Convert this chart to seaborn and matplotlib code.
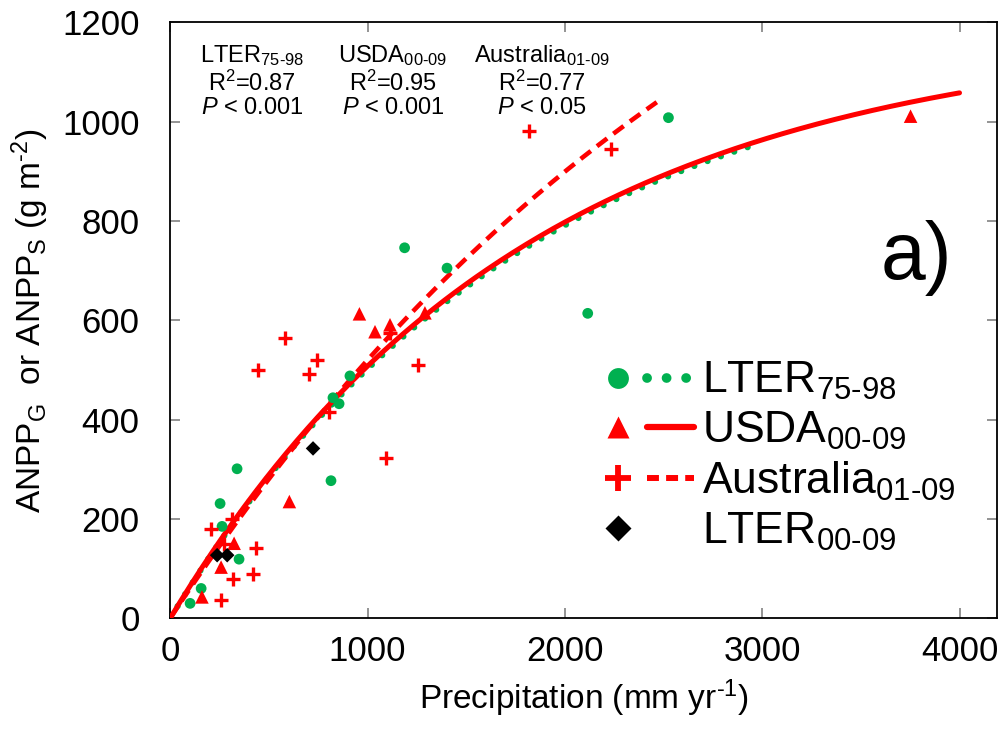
import numpy as np
import pandas as pd
import matplotlib
matplotlib.use("Agg")
import matplotlib.pyplot as plt
import seaborn as sns
from matplotlib.lines import Line2D
from matplotlib.legend_handler import HandlerBase

# LTER 1975-98 (green circles)
lter_old_precip = [101, 157, 263, 253, 339, 349, 815, 825, 856, 911, 1188, 1403, 2116, 2525]
lter_old_anpp = [30, 60, 185, 231, 301, 119, 277, 444, 432, 488, 746, 705, 614, 1008]

# USDA 2000-09 (red triangles)
usda_precip = [161, 258, 324, 604, 959, 1038, 1114, 1291, 3752]
usda_anpp = [43, 103, 151, 235, 613, 577, 591, 615, 1011]

# Australia 2001-09 (red crosses)
aus_precip = [258, 319, 422, 435, 208, 273, 314, 446, 582, 704, 744, 805, 1094, 1256, 1114, 1818, 2233]
aus_anpp = [36, 80, 90, 142, 179, 149, 199, 499, 565, 492, 521, 416, 322, 509, 575, 981, 945]

# LTER 2000-09 (black diamonds)
lter_new_precip = [238, 289, 724]
lter_new_anpp = [127, 127, 342]

# fitted curves ANPP = a * (1 - exp(-b * P)) : (a, b, P max)
fit_lter = (1184, 0.000552, 2950)
fit_usda = (1184, 0.00056, 4000)
fit_aus = (1924, 0.000315, 2466)

HY = "\u2010"  # short hyphen in the subscripts
series_names = ["LTER$_{\\mathregular{75" + HY + "98}}$", "USDA$_{\\mathregular{00" + HY + "09}}$",
                "Australia$_{\\mathregular{01" + HY + "09}}$", "LTER$_{\\mathregular{00" + HY + "09}}$"]
stats_r2 = ["0.87", "0.95", "0.77"]
stats_p = ["0.001", "0.001", "0.05"]

GREEN = "#00B050"
RED = "#FF0000"

sns.set_theme(style="ticks")
plt.rcParams["font.family"] = ["Liberation Sans", "DejaVu Sans"]
plt.rcParams["mathtext.fontset"] = "custom"
plt.rcParams["mathtext.rm"] = "Liberation Sans"
plt.rcParams["mathtext.it"] = "Liberation Sans:italic"
plt.rcParams["mathtext.default"] = "regular"
plt.rcParams["text.color"] = "black"
plt.rcParams["axes.labelcolor"] = "black"
plt.rcParams["xtick.labelcolor"] = "black"
plt.rcParams["ytick.labelcolor"] = "black"


def fit_curve(params):
    a, b, pmax = params
    p = np.linspace(0, pmax, 300)
    return pd.DataFrame({"p": p, "anpp": a * (1 - np.exp(-b * p))})


class MarkerThenLine(HandlerBase):
    # marker on the left of the handle box, line sample on the right
    def create_artists(self, legend, orig_handle, xdescent, ydescent, width, height,
                       fontsize, trans):
        mk, ln = orig_handle
        y = height / 2 - ydescent
        m = Line2D([0.15 * width - xdescent], [y])
        m.update_from(mk)
        m.set_transform(trans)
        out = [m]
        if ln is not None:
            l = Line2D([0.47 * width - xdescent, 0.98 * width - xdescent], [y, y])
            l.update_from(ln)
            l.set_transform(trans)
            out.append(l)
        return out


fig = plt.figure(figsize=(10.01, 7.44), dpi=100)
ax = fig.add_axes([0.170, 0.169, 0.826, 0.801])

# fit lines
sns.lineplot(data=fit_curve(fit_lter), x="p", y="anpp", ax=ax, color=GREEN, lw=4.5, zorder=2)
ax.lines[-1].set_linestyle((0, (0.01, 2.25)))
ax.lines[-1].set_dash_capstyle("round")
sns.lineplot(data=fit_curve(fit_usda), x="p", y="anpp", ax=ax, color=RED, lw=3.6, zorder=3)
sns.lineplot(data=fit_curve(fit_aus), x="p", y="anpp", ax=ax, color=RED, lw=3.3, zorder=3)
ax.lines[-1].set_linestyle((0, (2.8, 1.7)))

# points
sns.scatterplot(x=lter_old_precip, y=lter_old_anpp, ax=ax, color=GREEN, marker="o",
                s=60, edgecolor="none", zorder=4)
sns.scatterplot(x=usda_precip, y=usda_anpp, ax=ax, color=RED, marker="^",
                s=95, edgecolor="none", zorder=4)
sns.scatterplot(x=aus_precip, y=aus_anpp, ax=ax, color=RED, marker="+",
                s=95, linewidth=2.4, zorder=4)
sns.scatterplot(x=lter_new_precip, y=lter_new_anpp, ax=ax, color="black", marker="D",
                s=55, edgecolor="none", zorder=4)

ax.set_xlim(0, 4190)
ax.set_ylim(0, 1200)
ax.set_xticks([0, 1000, 2000, 3000, 4000])
ax.set_yticks(range(0, 1201, 200))
ax.tick_params(direction="in", length=7, width=1.1, color="#777777", labelsize=25,
               top=True, right=True, labeltop=False, labelright=False)
ax.tick_params(axis="y", pad=22)
ax.tick_params(axis="x", pad=12)
for sp in ax.spines.values():
    sp.set_color("black")
    sp.set_linewidth(1.3)

ax.set_xlabel("Precipitation (mm yr$^{\\mathregular{" + HY + "1}}$)", fontsize=24, labelpad=7)
ax.set_ylabel("ANPP$_{G}$  or ANPP$_{S}$ (g m$^{\\mathregular{" + HY + "2}}$)", fontsize=24,
              labelpad=8)

# statistics above the curves
for i, xc in enumerate([252, 393, 542]):
    xf = (xc - 170) / 827
    ax.text(xf, 0.945, series_names[i], transform=ax.transAxes, ha="center",
            va="center", fontsize=17)
    ax.text(xf, 0.898, "R$^{2}$=" + stats_r2[i], transform=ax.transAxes, ha="center",
            va="center", fontsize=17)
    ax.text(xf, 0.856, "$\\it{P}$ < " + stats_p[i], transform=ax.transAxes,
            ha="center", va="center", fontsize=17)

ax.text(0.903, 0.605, "a)", transform=ax.transAxes, ha="center", va="center",
        fontsize=58)

# legend: marker followed by line sample
h_lter = (Line2D([], [], ls="none", marker="o", ms=15, color=GREEN, mec="none"),
          Line2D([], [], color=GREEN, lw=7, ls=(0, (0.01, 2.0)), dash_capstyle="round"))
h_usda = (Line2D([], [], ls="none", marker="^", ms=16, color=RED, mec="none"),
          Line2D([], [], color=RED, lw=4.5, solid_capstyle="round"))
h_aus = (Line2D([], [], ls="none", marker="+", ms=19, mew=4.2, color=RED),
         Line2D([], [], color=RED, lw=4.3, ls=(0, (2.0, 1.2))))
h_new = (Line2D([], [], ls="none", marker="D", ms=13, color="black", mec="none"), None)
ax.legend([h_lter, h_usda, h_aus, h_new], series_names,
          handler_map={tuple: MarkerThenLine()},
          loc="upper left", bbox_to_anchor=(0.504, 0.463), frameon=False, fontsize=32,
          handlelength=2.05, handletextpad=0.15, labelspacing=0.17, borderaxespad=0)

fig.savefig("out.png", dpi=100)
